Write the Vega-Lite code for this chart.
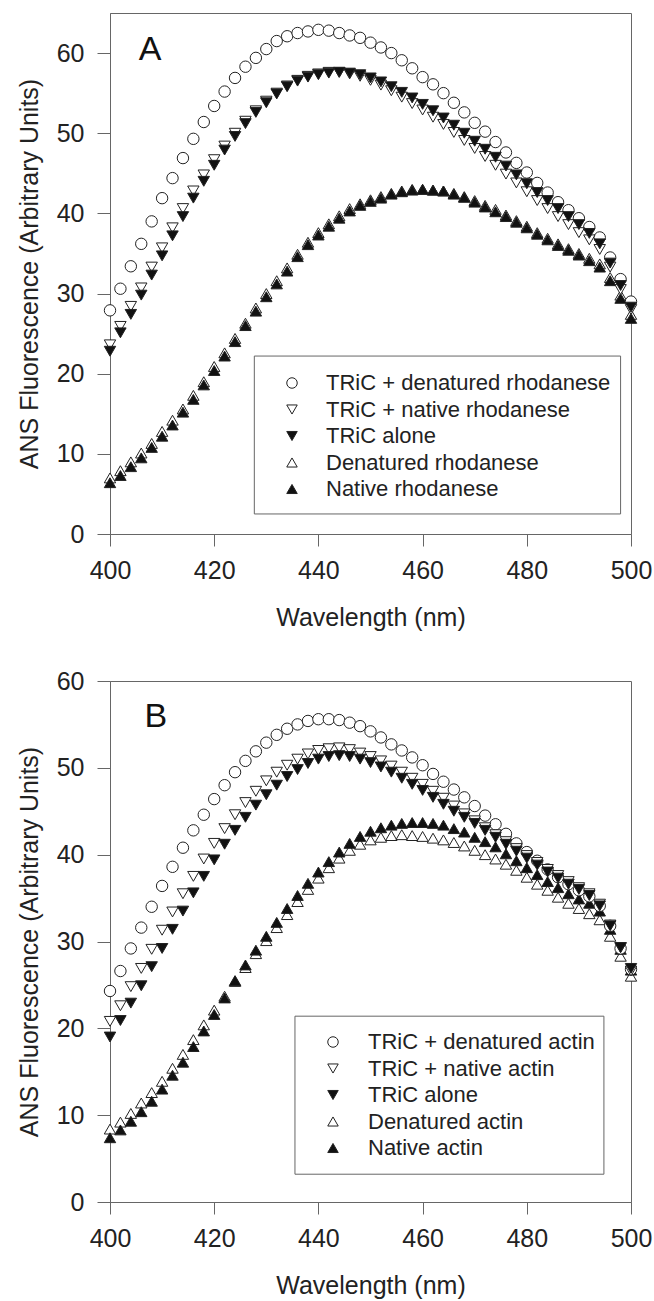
{
  "$schema": "https://vega.github.io/schema/vega-lite/v6.json",
  "background": "white",
  "padding": {"left": 16, "top": 12, "right": 0, "bottom": 0},
  "spacing": 37,
  "config": {
    "font": "Liberation Sans",
    "view": {"stroke": "#666", "strokeWidth": 1},
    "axis": {"domainColor": "#666", "tickColor": "#666", "labelColor": "#222", "titleColor": "#222", "labelFont": "Liberation Sans", "titleFont": "Liberation Sans", "labelFontSize": 25, "titleFontSize": 25, "titleFontWeight": "normal", "grid": false, "domainWidth": 1, "tickWidth": 1, "labelFlush": false, "labelOverlap": false},
    "legend": {"labelFont": "Liberation Sans", "labelFontSize": 22, "labelColor": "#222", "labelLimit": 500, "symbolSize": 110, "symbolStrokeColor": "#222", "symbolStrokeWidth": 1, "symbolOpacity": 1, "rowPadding": 4.5, "padding": 0, "title": null}
  },
  "resolve": {"scale": {"x": "independent", "y": "independent", "shape": "independent", "fill": "independent"}},
  "datasets": {
    "A": [
      {"wl":400,"TRiC + denatured rhodanese":27.9,"TRiC + native rhodanese":23.6,"TRiC alone":22.8,"Denatured rhodanese":7.0,"Native rhodanese":6.4},
      {"wl":402,"TRiC + denatured rhodanese":30.6,"TRiC + native rhodanese":25.9,"TRiC alone":25.1,"Denatured rhodanese":7.9,"Native rhodanese":7.3},
      {"wl":404,"TRiC + denatured rhodanese":33.4,"TRiC + native rhodanese":28.4,"TRiC alone":27.4,"Denatured rhodanese":9.0,"Native rhodanese":8.4},
      {"wl":406,"TRiC + denatured rhodanese":36.2,"TRiC + native rhodanese":30.7,"TRiC alone":29.8,"Denatured rhodanese":10.1,"Native rhodanese":9.5},
      {"wl":408,"TRiC + denatured rhodanese":39.0,"TRiC + native rhodanese":33.3,"TRiC alone":32.3,"Denatured rhodanese":11.3,"Native rhodanese":10.8},
      {"wl":410,"TRiC + denatured rhodanese":41.9,"TRiC + native rhodanese":35.7,"TRiC alone":34.7,"Denatured rhodanese":12.8,"Native rhodanese":12.2},
      {"wl":412,"TRiC + denatured rhodanese":44.4,"TRiC + native rhodanese":38.2,"TRiC alone":37.2,"Denatured rhodanese":14.2,"Native rhodanese":13.6},
      {"wl":414,"TRiC + denatured rhodanese":46.9,"TRiC + native rhodanese":40.6,"TRiC alone":39.6,"Denatured rhodanese":15.6,"Native rhodanese":15.2},
      {"wl":416,"TRiC + denatured rhodanese":49.3,"TRiC + native rhodanese":42.8,"TRiC alone":41.9,"Denatured rhodanese":17.3,"Native rhodanese":16.8},
      {"wl":418,"TRiC + denatured rhodanese":51.4,"TRiC + native rhodanese":44.8,"TRiC alone":44.0,"Denatured rhodanese":19.0,"Native rhodanese":18.6},
      {"wl":420,"TRiC + denatured rhodanese":53.4,"TRiC + native rhodanese":46.7,"TRiC alone":46.0,"Denatured rhodanese":20.9,"Native rhodanese":20.4},
      {"wl":422,"TRiC + denatured rhodanese":55.2,"TRiC + native rhodanese":48.4,"TRiC alone":47.9,"Denatured rhodanese":22.6,"Native rhodanese":22.2},
      {"wl":424,"TRiC + denatured rhodanese":56.9,"TRiC + native rhodanese":50.0,"TRiC alone":49.6,"Denatured rhodanese":24.4,"Native rhodanese":24.0},
      {"wl":426,"TRiC + denatured rhodanese":58.3,"TRiC + native rhodanese":51.5,"TRiC alone":51.2,"Denatured rhodanese":26.3,"Native rhodanese":26.0},
      {"wl":428,"TRiC + denatured rhodanese":59.4,"TRiC + native rhodanese":52.8,"TRiC alone":52.6,"Denatured rhodanese":28.2,"Native rhodanese":27.8},
      {"wl":430,"TRiC + denatured rhodanese":60.5,"TRiC + native rhodanese":54.0,"TRiC alone":53.8,"Denatured rhodanese":30.0,"Native rhodanese":29.6},
      {"wl":432,"TRiC + denatured rhodanese":61.5,"TRiC + native rhodanese":55.0,"TRiC alone":54.9,"Denatured rhodanese":31.6,"Native rhodanese":31.2},
      {"wl":434,"TRiC + denatured rhodanese":62.1,"TRiC + native rhodanese":55.9,"TRiC alone":55.8,"Denatured rhodanese":33.2,"Native rhodanese":32.8},
      {"wl":436,"TRiC + denatured rhodanese":62.5,"TRiC + native rhodanese":56.6,"TRiC alone":56.5,"Denatured rhodanese":34.9,"Native rhodanese":34.6},
      {"wl":438,"TRiC + denatured rhodanese":62.7,"TRiC + native rhodanese":57.1,"TRiC alone":57.0,"Denatured rhodanese":36.4,"Native rhodanese":36.1},
      {"wl":440,"TRiC + denatured rhodanese":62.9,"TRiC + native rhodanese":57.4,"TRiC alone":57.3,"Denatured rhodanese":37.6,"Native rhodanese":37.3},
      {"wl":442,"TRiC + denatured rhodanese":62.8,"TRiC + native rhodanese":57.6,"TRiC alone":57.5,"Denatured rhodanese":38.7,"Native rhodanese":38.4},
      {"wl":444,"TRiC + denatured rhodanese":62.5,"TRiC + native rhodanese":57.6,"TRiC alone":57.6,"Denatured rhodanese":39.7,"Native rhodanese":39.4},
      {"wl":446,"TRiC + denatured rhodanese":62.2,"TRiC + native rhodanese":57.4,"TRiC alone":57.5,"Denatured rhodanese":40.6,"Native rhodanese":40.3},
      {"wl":448,"TRiC + denatured rhodanese":61.9,"TRiC + native rhodanese":57.1,"TRiC alone":57.3,"Denatured rhodanese":41.2,"Native rhodanese":41.0},
      {"wl":450,"TRiC + denatured rhodanese":61.3,"TRiC + native rhodanese":56.6,"TRiC alone":56.9,"Denatured rhodanese":41.7,"Native rhodanese":41.5},
      {"wl":452,"TRiC + denatured rhodanese":60.7,"TRiC + native rhodanese":56.0,"TRiC alone":56.4,"Denatured rhodanese":42.1,"Native rhodanese":41.9},
      {"wl":454,"TRiC + denatured rhodanese":60.0,"TRiC + native rhodanese":55.3,"TRiC alone":55.8,"Denatured rhodanese":42.5,"Native rhodanese":42.4},
      {"wl":456,"TRiC + denatured rhodanese":59.1,"TRiC + native rhodanese":54.5,"TRiC alone":55.1,"Denatured rhodanese":42.8,"Native rhodanese":42.7},
      {"wl":458,"TRiC + denatured rhodanese":58.1,"TRiC + native rhodanese":53.7,"TRiC alone":54.4,"Denatured rhodanese":43.0,"Native rhodanese":42.9},
      {"wl":460,"TRiC + denatured rhodanese":57.0,"TRiC + native rhodanese":52.9,"TRiC alone":53.6,"Denatured rhodanese":43.0,"Native rhodanese":43.0},
      {"wl":462,"TRiC + denatured rhodanese":56.1,"TRiC + native rhodanese":52.0,"TRiC alone":52.8,"Denatured rhodanese":42.9,"Native rhodanese":42.9},
      {"wl":464,"TRiC + denatured rhodanese":55.0,"TRiC + native rhodanese":51.1,"TRiC alone":51.9,"Denatured rhodanese":42.8,"Native rhodanese":42.8},
      {"wl":466,"TRiC + denatured rhodanese":53.8,"TRiC + native rhodanese":50.1,"TRiC alone":51.0,"Denatured rhodanese":42.5,"Native rhodanese":42.4},
      {"wl":468,"TRiC + denatured rhodanese":52.6,"TRiC + native rhodanese":49.1,"TRiC alone":50.0,"Denatured rhodanese":42.1,"Native rhodanese":42.0},
      {"wl":470,"TRiC + denatured rhodanese":51.3,"TRiC + native rhodanese":48.1,"TRiC alone":49.0,"Denatured rhodanese":41.6,"Native rhodanese":41.4},
      {"wl":472,"TRiC + denatured rhodanese":50.2,"TRiC + native rhodanese":47.1,"TRiC alone":48.0,"Denatured rhodanese":41.0,"Native rhodanese":40.8},
      {"wl":474,"TRiC + denatured rhodanese":48.9,"TRiC + native rhodanese":46.0,"TRiC alone":47.0,"Denatured rhodanese":40.5,"Native rhodanese":40.2},
      {"wl":476,"TRiC + denatured rhodanese":47.6,"TRiC + native rhodanese":44.9,"TRiC alone":45.9,"Denatured rhodanese":39.8,"Native rhodanese":39.6},
      {"wl":478,"TRiC + denatured rhodanese":46.3,"TRiC + native rhodanese":43.8,"TRiC alone":44.8,"Denatured rhodanese":39.1,"Native rhodanese":38.9},
      {"wl":480,"TRiC + denatured rhodanese":45.1,"TRiC + native rhodanese":42.7,"TRiC alone":43.7,"Denatured rhodanese":38.4,"Native rhodanese":38.2},
      {"wl":482,"TRiC + denatured rhodanese":43.8,"TRiC + native rhodanese":41.6,"TRiC alone":42.6,"Denatured rhodanese":37.6,"Native rhodanese":37.4},
      {"wl":484,"TRiC + denatured rhodanese":42.6,"TRiC + native rhodanese":40.6,"TRiC alone":41.6,"Denatured rhodanese":36.9,"Native rhodanese":36.7},
      {"wl":486,"TRiC + denatured rhodanese":41.4,"TRiC + native rhodanese":39.6,"TRiC alone":40.6,"Denatured rhodanese":36.2,"Native rhodanese":36.0},
      {"wl":488,"TRiC + denatured rhodanese":40.4,"TRiC + native rhodanese":38.6,"TRiC alone":39.6,"Denatured rhodanese":35.6,"Native rhodanese":35.4},
      {"wl":490,"TRiC + denatured rhodanese":39.4,"TRiC + native rhodanese":37.6,"TRiC alone":38.6,"Denatured rhodanese":35.0,"Native rhodanese":34.8},
      {"wl":492,"TRiC + denatured rhodanese":38.3,"TRiC + native rhodanese":36.7,"TRiC alone":37.5,"Denatured rhodanese":34.4,"Native rhodanese":34.1},
      {"wl":494,"TRiC + denatured rhodanese":37.0,"TRiC + native rhodanese":35.5,"TRiC alone":36.2,"Denatured rhodanese":33.7,"Native rhodanese":33.3},
      {"wl":496,"TRiC + denatured rhodanese":34.5,"TRiC + native rhodanese":33.3,"TRiC alone":33.8,"Denatured rhodanese":32.0,"Native rhodanese":31.6},
      {"wl":498,"TRiC + denatured rhodanese":31.8,"TRiC + native rhodanese":30.5,"TRiC alone":31.0,"Denatured rhodanese":29.8,"Native rhodanese":29.4},
      {"wl":500,"TRiC + denatured rhodanese":29.0,"TRiC + native rhodanese":28.0,"TRiC alone":28.3,"Denatured rhodanese":27.4,"Native rhodanese":26.9}
    ],
    "B": [
      {"wl":400,"TRiC + denatured actin":24.3,"TRiC + native actin":20.8,"TRiC alone":19.0,"Denatured actin":8.4,"Native actin":7.4},
      {"wl":402,"TRiC + denatured actin":26.6,"TRiC + native actin":22.6,"TRiC alone":20.9,"Denatured actin":9.2,"Native actin":8.3},
      {"wl":404,"TRiC + denatured actin":29.2,"TRiC + native actin":24.8,"TRiC alone":22.9,"Denatured actin":10.2,"Native actin":9.3},
      {"wl":406,"TRiC + denatured actin":31.6,"TRiC + native actin":26.9,"TRiC alone":24.9,"Denatured actin":11.4,"Native actin":10.4},
      {"wl":408,"TRiC + denatured actin":34.0,"TRiC + native actin":29.1,"TRiC alone":27.1,"Denatured actin":12.6,"Native actin":11.6},
      {"wl":410,"TRiC + denatured actin":36.4,"TRiC + native actin":31.3,"TRiC alone":29.2,"Denatured actin":13.9,"Native actin":13.0},
      {"wl":412,"TRiC + denatured actin":38.6,"TRiC + native actin":33.4,"TRiC alone":31.4,"Denatured actin":15.4,"Native actin":14.6},
      {"wl":414,"TRiC + denatured actin":40.8,"TRiC + native actin":35.5,"TRiC alone":33.5,"Denatured actin":17.0,"Native actin":16.1},
      {"wl":416,"TRiC + denatured actin":42.8,"TRiC + native actin":37.5,"TRiC alone":35.6,"Denatured actin":18.7,"Native actin":17.9},
      {"wl":418,"TRiC + denatured actin":44.6,"TRiC + native actin":39.5,"TRiC alone":37.5,"Denatured actin":20.4,"Native actin":19.7},
      {"wl":420,"TRiC + denatured actin":46.4,"TRiC + native actin":41.3,"TRiC alone":39.4,"Denatured actin":22.1,"Native actin":21.6},
      {"wl":422,"TRiC + denatured actin":48.0,"TRiC + native actin":43.0,"TRiC alone":41.2,"Denatured actin":23.7,"Native actin":23.5},
      {"wl":424,"TRiC + denatured actin":49.5,"TRiC + native actin":44.6,"TRiC alone":42.8,"Denatured actin":25.4,"Native actin":25.5},
      {"wl":426,"TRiC + denatured actin":50.8,"TRiC + native actin":46.0,"TRiC alone":44.3,"Denatured actin":27.0,"Native actin":27.3},
      {"wl":428,"TRiC + denatured actin":51.9,"TRiC + native actin":47.3,"TRiC alone":45.7,"Denatured actin":28.6,"Native actin":29.0},
      {"wl":430,"TRiC + denatured actin":52.9,"TRiC + native actin":48.5,"TRiC alone":46.9,"Denatured actin":30.1,"Native actin":30.6},
      {"wl":432,"TRiC + denatured actin":53.8,"TRiC + native actin":49.5,"TRiC alone":48.0,"Denatured actin":31.6,"Native actin":32.2},
      {"wl":434,"TRiC + denatured actin":54.5,"TRiC + native actin":50.3,"TRiC alone":49.0,"Denatured actin":33.1,"Native actin":33.8},
      {"wl":436,"TRiC + denatured actin":55.0,"TRiC + native actin":51.0,"TRiC alone":49.8,"Denatured actin":34.6,"Native actin":35.3},
      {"wl":438,"TRiC + denatured actin":55.4,"TRiC + native actin":51.6,"TRiC alone":50.5,"Denatured actin":36.0,"Native actin":36.7},
      {"wl":440,"TRiC + denatured actin":55.6,"TRiC + native actin":52.0,"TRiC alone":51.0,"Denatured actin":37.3,"Native actin":38.0},
      {"wl":442,"TRiC + denatured actin":55.6,"TRiC + native actin":52.2,"TRiC alone":51.3,"Denatured actin":38.5,"Native actin":39.2},
      {"wl":444,"TRiC + denatured actin":55.5,"TRiC + native actin":52.3,"TRiC alone":51.4,"Denatured actin":39.6,"Native actin":40.3},
      {"wl":446,"TRiC + denatured actin":55.2,"TRiC + native actin":52.1,"TRiC alone":51.3,"Denatured actin":40.5,"Native actin":41.3},
      {"wl":448,"TRiC + denatured actin":54.8,"TRiC + native actin":51.7,"TRiC alone":51.0,"Denatured actin":41.2,"Native actin":42.1},
      {"wl":450,"TRiC + denatured actin":54.2,"TRiC + native actin":51.3,"TRiC alone":50.6,"Denatured actin":41.7,"Native actin":42.7},
      {"wl":452,"TRiC + denatured actin":53.5,"TRiC + native actin":50.8,"TRiC alone":50.1,"Denatured actin":42.0,"Native actin":43.1},
      {"wl":454,"TRiC + denatured actin":52.7,"TRiC + native actin":50.2,"TRiC alone":49.5,"Denatured actin":42.2,"Native actin":43.4},
      {"wl":456,"TRiC + denatured actin":52.0,"TRiC + native actin":49.5,"TRiC alone":48.8,"Denatured actin":42.3,"Native actin":43.6},
      {"wl":458,"TRiC + denatured actin":51.2,"TRiC + native actin":48.8,"TRiC alone":48.1,"Denatured actin":42.2,"Native actin":43.7},
      {"wl":460,"TRiC + denatured actin":50.3,"TRiC + native actin":48.1,"TRiC alone":47.4,"Denatured actin":42.1,"Native actin":43.7},
      {"wl":462,"TRiC + denatured actin":49.3,"TRiC + native actin":47.3,"TRiC alone":46.6,"Denatured actin":41.9,"Native actin":43.6},
      {"wl":464,"TRiC + denatured actin":48.4,"TRiC + native actin":46.5,"TRiC alone":45.8,"Denatured actin":41.7,"Native actin":43.4},
      {"wl":466,"TRiC + denatured actin":47.5,"TRiC + native actin":45.6,"TRiC alone":45.0,"Denatured actin":41.4,"Native actin":43.0},
      {"wl":468,"TRiC + denatured actin":46.6,"TRiC + native actin":44.7,"TRiC alone":44.3,"Denatured actin":41.0,"Native actin":42.6},
      {"wl":470,"TRiC + denatured actin":45.6,"TRiC + native actin":43.9,"TRiC alone":43.6,"Denatured actin":40.5,"Native actin":42.0},
      {"wl":472,"TRiC + denatured actin":44.5,"TRiC + native actin":43.1,"TRiC alone":42.8,"Denatured actin":40.0,"Native actin":41.5},
      {"wl":474,"TRiC + denatured actin":43.5,"TRiC + native actin":42.3,"TRiC alone":42.0,"Denatured actin":39.5,"Native actin":40.9},
      {"wl":476,"TRiC + denatured actin":42.4,"TRiC + native actin":41.5,"TRiC alone":41.2,"Denatured actin":38.9,"Native actin":40.1},
      {"wl":478,"TRiC + denatured actin":41.3,"TRiC + native actin":40.7,"TRiC alone":40.4,"Denatured actin":38.2,"Native actin":39.3},
      {"wl":480,"TRiC + denatured actin":40.3,"TRiC + native actin":39.9,"TRiC alone":39.6,"Denatured actin":37.4,"Native actin":38.5},
      {"wl":482,"TRiC + denatured actin":39.3,"TRiC + native actin":39.1,"TRiC alone":38.8,"Denatured actin":36.6,"Native actin":37.7},
      {"wl":484,"TRiC + denatured actin":38.3,"TRiC + native actin":38.3,"TRiC alone":38.0,"Denatured actin":35.9,"Native actin":36.9},
      {"wl":486,"TRiC + denatured actin":37.4,"TRiC + native actin":37.6,"TRiC alone":37.3,"Denatured actin":35.1,"Native actin":36.2},
      {"wl":488,"TRiC + denatured actin":36.6,"TRiC + native actin":36.9,"TRiC alone":36.6,"Denatured actin":34.4,"Native actin":35.5},
      {"wl":490,"TRiC + denatured actin":35.9,"TRiC + native actin":36.2,"TRiC alone":36.0,"Denatured actin":33.8,"Native actin":34.9},
      {"wl":492,"TRiC + denatured actin":35.2,"TRiC + native actin":35.5,"TRiC alone":35.3,"Denatured actin":33.2,"Native actin":34.4},
      {"wl":494,"TRiC + denatured actin":34.1,"TRiC + native actin":34.3,"TRiC alone":34.1,"Denatured actin":32.5,"Native actin":33.5},
      {"wl":496,"TRiC + denatured actin":31.8,"TRiC + native actin":31.9,"TRiC alone":31.8,"Denatured actin":30.6,"Native actin":31.4},
      {"wl":498,"TRiC + denatured actin":29.2,"TRiC + native actin":29.3,"TRiC alone":29.3,"Denatured actin":28.3,"Native actin":29.1},
      {"wl":500,"TRiC + denatured actin":26.8,"TRiC + native actin":26.6,"TRiC alone":26.9,"Denatured actin":26.0,"Native actin":26.7}
    ]
  },
  "vconcat": [
    {
      "width": 521,
      "height": 521,
      "layer": [
        {
          "data": {"values": [{}]},
          "mark": {"type": "rect", "fill": "white", "stroke": "#666", "strokeWidth": 1},
          "encoding": {
            "x": {"datum": 427.7, "type": "quantitative"},
            "x2": {"datum": 498},
            "y": {"datum": 22.2, "type": "quantitative"},
            "y2": {"datum": 2.5}
          }
        },
        {
          "data": {"name": "A"},
          "transform": [{"fold": ["TRiC + denatured rhodanese", "TRiC + native rhodanese", "TRiC alone", "Denatured rhodanese", "Native rhodanese"], "as": ["series", "v"]}],
          "mark": {"type": "point", "filled": true, "stroke": "#222", "strokeWidth": 1, "opacity": 1, "size": 130},
          "encoding": {
            "x": {"field": "wl", "type": "quantitative", "scale": {"domain": [400, 500], "nice": false, "zero": false},
              "axis": {"title": "Wavelength (nm)", "values": [400, 420, 440, 460, 480, 500], "format": "d", "tickSize": 12, "labelPadding": 32, "labelBaseline": "alphabetic", "titleBaseline": "alphabetic", "titleY": 91}},
            "y": {"field": "v", "type": "quantitative", "scale": {"domain": [0, 65], "nice": false, "zero": true},
              "axis": {"title": "ANS Fluorescence (Arbitrary Units)", "values": [0, 10, 20, 30, 40, 50, 60], "tickSize": 13, "labelPadding": 13, "titleX": -73, "titleBaseline": "alphabetic"}},
            "shape": {"field": "series", "type": "nominal",
              "scale": {"domain": ["TRiC + denatured rhodanese", "TRiC + native rhodanese", "TRiC alone", "Denatured rhodanese", "Native rhodanese"], "range": ["circle", "triangle-down", "triangle-down", "triangle-up", "triangle-up"]},
              "legend": {"orient": "none", "legendX": 171, "legendY": 359, "labelOffset": 23, "labelLimit": 500, "symbolStrokeColor": "#222", "symbolStrokeWidth": 1,
                "encode": {"symbols": {"update": {"stroke": {"value": "#222"}, "strokeWidth": {"value": 1}}}}}},
            "fill": {"field": "series", "type": "nominal",
              "scale": {"domain": ["TRiC + denatured rhodanese", "TRiC + native rhodanese", "TRiC alone", "Denatured rhodanese", "Native rhodanese"], "range": ["white", "white", "#111", "white", "#111"]},
              "legend": {"orient": "none", "legendX": 171, "legendY": 359, "labelOffset": 23, "labelLimit": 500, "symbolStrokeColor": "#222", "symbolStrokeWidth": 1,
                "encode": {"symbols": {"update": {"stroke": {"value": "#222"}, "strokeWidth": {"value": 1}}}}}},
            "order": {"field": "series"}
          }
        },
        {
          "data": {"values": [{}]},
          "mark": {"type": "text", "text": "A", "fontSize": 34, "font": "Liberation Sans", "color": "#111", "align": "center", "baseline": "middle"},
          "encoding": {
            "x": {"datum": 407.7, "type": "quantitative"},
            "y": {"datum": 60.4, "type": "quantitative"}
          }
        }
      ]
    },
    {
      "width": 521,
      "height": 521,
      "layer": [
        {
          "data": {"values": [{}]},
          "mark": {"type": "rect", "fill": "white", "stroke": "#666", "strokeWidth": 1},
          "encoding": {
            "x": {"datum": 435.5, "type": "quantitative"},
            "x2": {"datum": 494.8},
            "y": {"datum": 21.4, "type": "quantitative"},
            "y2": {"datum": 3.2}
          }
        },
        {
          "data": {"name": "B"},
          "transform": [{"fold": ["TRiC + denatured actin", "TRiC + native actin", "TRiC alone", "Denatured actin", "Native actin"], "as": ["series", "v"]}],
          "mark": {"type": "point", "filled": true, "stroke": "#222", "strokeWidth": 1, "opacity": 1, "size": 130},
          "encoding": {
            "x": {"field": "wl", "type": "quantitative", "scale": {"domain": [400, 500], "nice": false, "zero": false},
              "axis": {"title": "Wavelength (nm)", "values": [400, 420, 440, 460, 480, 500], "format": "d", "tickSize": 12, "labelPadding": 32, "labelBaseline": "alphabetic", "titleBaseline": "alphabetic", "titleY": 91}},
            "y": {"field": "v", "type": "quantitative", "scale": {"domain": [0, 60], "nice": false, "zero": true},
              "axis": {"title": "ANS Fluorescence (Arbitrary Units)", "values": [0, 10, 20, 30, 40, 50, 60], "tickSize": 13, "labelPadding": 13, "titleX": -73, "titleBaseline": "alphabetic"}},
            "shape": {"field": "series", "type": "nominal",
              "scale": {"domain": ["TRiC + denatured actin", "TRiC + native actin", "TRiC alone", "Denatured actin", "Native actin"], "range": ["circle", "triangle-down", "triangle-down", "triangle-up", "triangle-up"]},
              "legend": {"orient": "none", "legendX": 212, "legendY": 350, "labelOffset": 24, "labelLimit": 500, "symbolStrokeColor": "#222", "symbolStrokeWidth": 1,
                "encode": {"symbols": {"update": {"stroke": {"value": "#222"}, "strokeWidth": {"value": 1}}}}}},
            "fill": {"field": "series", "type": "nominal",
              "scale": {"domain": ["TRiC + denatured actin", "TRiC + native actin", "TRiC alone", "Denatured actin", "Native actin"], "range": ["white", "white", "#111", "white", "#111"]},
              "legend": {"orient": "none", "legendX": 212, "legendY": 350, "labelOffset": 24, "labelLimit": 500, "symbolStrokeColor": "#222", "symbolStrokeWidth": 1,
                "encode": {"symbols": {"update": {"stroke": {"value": "#222"}, "strokeWidth": {"value": 1}}}}}},
            "order": {"field": "series"}
          }
        },
        {
          "data": {"values": [{}]},
          "mark": {"type": "text", "text": "B", "fontSize": 34, "font": "Liberation Sans", "color": "#111", "align": "center", "baseline": "middle"},
          "encoding": {
            "x": {"datum": 408.8, "type": "quantitative"},
            "y": {"datum": 55.8, "type": "quantitative"}
          }
        }
      ]
    }
  ]
}
